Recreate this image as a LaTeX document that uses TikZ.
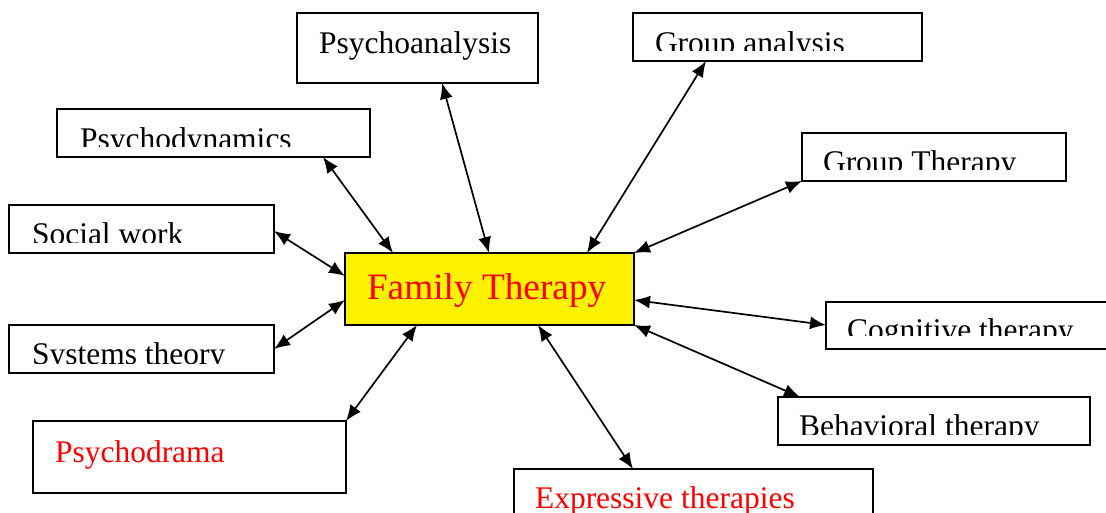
\documentclass[tikz,border=0pt]{standalone}
\usepackage{fontspec}
\setmainfont{Liberation Serif}
\usetikzlibrary{arrows.meta,calc}
\begin{document}
\begin{tikzpicture}[x=1pt,y=-1pt,
  box/.style={draw=black, line width=1.8pt, inner sep=0pt, outer sep=0pt, anchor=north west, fill=white},
  lbl/.style={inner sep=0pt, minimum width=0pt, minimum height=0pt, anchor=base west, draw=none, fill=none, font=\fontsize{31.5}{36}\selectfont},
  link/.style={{Latex[length=16pt,width=13pt]}-{Latex[length=16pt,width=13pt]}, line width=1.7pt},
]
\useasboundingbox (0,0) rectangle (1106,513);
\clip (0,0) rectangle (1106,513);

\node[box, minimum width=241, minimum height=70,
  path picture={\node[lbl] at ($(path picture bounding box.north west)+(22,41)$) {Psychoanalysis};}] (psa) at (297,13) {};
\node[box, minimum width=289, minimum height=48,
  path picture={\clip (path picture bounding box.north west) rectangle ($(path picture bounding box.north east)+(0,37.7)$);
    \node[lbl] at ($(path picture bounding box.north west)+(22,40.3)$) {Group analysis};}] (gan) at (633,13) {};
\node[box, minimum width=264, minimum height=48,
  path picture={\clip (path picture bounding box.north west) rectangle ($(path picture bounding box.north east)+(0,37)$);
    \node[lbl] at ($(path picture bounding box.north west)+(21,39.7)$) {Group Therapy};}] (gth) at (802,133) {};
\node[box, minimum width=313, minimum height=48,
  path picture={\clip (path picture bounding box.north west) rectangle ($(path picture bounding box.north east)+(0,37.7)$);
    \node[lbl] at ($(path picture bounding box.north west)+(23,40.2)$) {Psychodynamics};}] (psd) at (57,109) {};
\node[box, minimum width=265, minimum height=48,
  path picture={\clip (path picture bounding box.north west) rectangle ($(path picture bounding box.north east)+(0,37.7)$);
    \node[lbl] at ($(path picture bounding box.north west)+(23,39.2)$) {Social work};}] (soc) at (9,205) {};
\node[box, minimum width=265, minimum height=48,
  path picture={\clip (path picture bounding box.north west) rectangle ($(path picture bounding box.north east)+(0,38.3)$);
    \node[lbl] at ($(path picture bounding box.north west)+(23,39.2)$) {Systems theory};}] (sys) at (9,325) {};
\node[box, fill=yellow, minimum width=289, minimum height=72,
  path picture={\node[lbl, text=red, font=\fontsize{37.3}{44}\selectfont] at ($(path picture bounding box.north west)+(22,46)$) {Family Therapy};}] (fam) at (345,253) {};
\node[box, minimum width=300, minimum height=47,
  path picture={\clip (path picture bounding box.north west) rectangle ($(path picture bounding box.north east)+(0,33)$);
    \node[lbl] at ($(path picture bounding box.north west)+(21,38.2)$) {Cognitive therapy};}] (cog) at (826,302) {};
\node[box, minimum width=312, minimum height=48,
  path picture={\clip (path picture bounding box.north west) rectangle ($(path picture bounding box.north east)+(0,37)$);
    \node[lbl] at ($(path picture bounding box.north west)+(21,39)$) {Behavioral therapy};}] (beh) at (778,397) {};
\node[box, minimum width=359, minimum height=60,
  path picture={\node[lbl, text=red] at ($(path picture bounding box.north west)+(21,39)$) {Expressive therapies};}] (exp) at (514,469) {};
\node[box, minimum width=313, minimum height=72,
  path picture={\node[lbl, text=red] at ($(path picture bounding box.north west)+(22,41)$) {Psychodrama};}] (pdr) at (33,421) {};

\draw[link] ($(psa.south west)+(145,0)$) -- ($(fam.north west)+(144,0)$);
\draw[link] ($(gan.south west)+(73,0)$) -- ($(fam.north west)+(242,0)$);
\draw[link] ($(psd.south west)+(266,0)$) -- ($(fam.north west)+(48,0)$);
\draw[link] (gth.south west) -- (fam.north east);
\draw[link] ($(soc.north east)+(0,26)$) -- ($(fam.north west)+(0,23)$);
\draw[link] ($(sys.north east)+(0,24)$) -- ($(fam.north west)+(0,47)$);
\draw[link] (pdr.north east) -- ($(fam.south west)+(72,0)$);
\draw[link] ($(exp.north west)+(119,0)$) -- ($(fam.south west)+(193,0)$);
\draw[link] ($(beh.north west)+(22,0)$) -- (fam.south east);
\draw[link] ($(cog.north west)+(0,23)$) -- ($(fam.north east)+(0,47)$);
\end{tikzpicture}
\end{document}
